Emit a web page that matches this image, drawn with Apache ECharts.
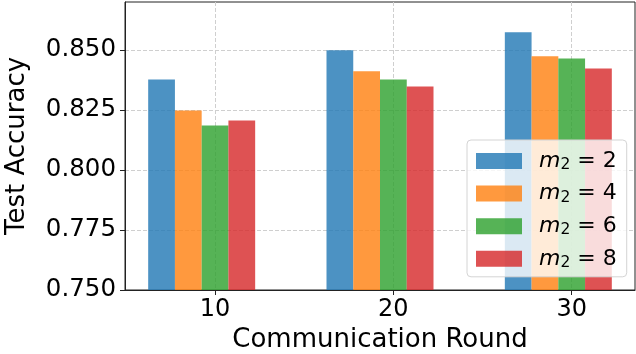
<!DOCTYPE html>
<html>
<head>
<meta charset="utf-8">
<script src="https://cdn.jsdelivr.net/npm/echarts@6/dist/echarts.min.js"></script>
<style>
  html, body { margin: 0; padding: 0; background: #fff; }
  #chart { width: 636px; height: 354px; }
</style>
</head>
<body>
<div id="chart"></div>
<script>
// Communication rounds on the x axis
const rounds = [10, 20, 30];
// Test accuracy for each m2 setting
const accM2_2 = [0.8377, 0.8499, 0.8574];
const accM2_4 = [0.8248, 0.8411, 0.8474];
const accM2_6 = [0.8185, 0.8377, 0.8465];
const accM2_8 = [0.8206, 0.8348, 0.8423];
const seriesValues = [accM2_2, accM2_4, accM2_6, accM2_8];
const seriesNames = ['2', '4', '6', '8'];
// Tick labels
const yTicks = [0.750, 0.775, 0.800, 0.825, 0.850];
const xTicks = [10, 20, 30];

const colors = [
  'rgba(31,119,180,0.8)',
  'rgba(255,127,14,0.8)',
  'rgba(44,160,44,0.8)',
  'rgba(214,39,40,0.8)'
];
const FONT = 'DejaVu Sans';
const BAR_W = 1.5;   // bar width in x-axis units
const Y_MIN = 0.75;

function renderBar(params, api) {
  const x = api.value(0);
  const y = api.value(1);
  const topLeft = api.coord([x - BAR_W / 2, y]);
  const botRight = api.coord([x + BAR_W / 2, Y_MIN]);
  return {
    type: 'rect',
    shape: {
      x: topLeft[0],
      y: topLeft[1],
      width: botRight[0] - topLeft[0],
      height: botRight[1] - topLeft[1]
    },
    style: { fill: api.visual('color') }
  };
}

const series = seriesValues.map((vals, i) => ({
  name: seriesNames[i],
  type: 'custom',
  renderItem: renderBar,
  itemStyle: { color: colors[i] },
  encode: { x: 0, y: 1 },
  clip: true,
  data: rounds.map((r, j) => [r + (i - 2) * BAR_W, vals[j]])
}));

const gridLine = { show: true, lineStyle: { color: '#cfcfcf', width: 1, type: [4, 2] } };

const chart = echarts.init(document.getElementById('chart'), null, { renderer: 'canvas' });
chart.setOption({
  animation: false,
  backgroundColor: '#fff',
  textStyle: { fontFamily: FONT },
  grid: {
    left: 125, right: 1, top: 2, bottom: 64,
    containLabel: false,
    outerBoundsMode: 'none',
    show: true, borderColor: '#222', borderWidth: 1, backgroundColor: 'transparent'
  },
  xAxis: {
    type: 'value',
    min: 4.95,
    max: 33.55,
    name: 'Communication Round',
    nameLocation: 'middle',
    nameGap: 37,
    nameMoveOverlap: false,
    nameTextStyle: { fontFamily: FONT, fontSize: 26, color: '#000' },
    axisLine: { show: true, onZero: false, lineStyle: { color: '#222', width: 1 } },
    axisTick: { show: true, length: 5, lineStyle: { color: '#222' }, customValues: xTicks },
    axisLabel: { customValues: xTicks, fontFamily: FONT, fontSize: 24, color: '#000', margin: 8 },
    splitLine: gridLine
  },
  yAxis: {
    type: 'value',
    min: Y_MIN,
    max: 0.87,
    name: 'Test Accuracy',
    nameLocation: 'middle',
    nameGap: 95,
    nameMoveOverlap: false,
    nameTextStyle: { fontFamily: FONT, fontSize: 26, color: '#000' },
    axisLine: { show: true, onZero: false, lineStyle: { color: '#222', width: 1 } },
    axisTick: { show: true, length: 5, lineStyle: { color: '#222' }, customValues: yTicks },
    axisLabel: {
      customValues: yTicks,
      fontFamily: FONT, fontSize: 24.5, color: '#000', margin: 9,
      formatter: v => v.toFixed(3)
    },
    splitLine: gridLine
  },
  legend: {
    orient: 'vertical',
    left: 467,
    top: 140,
    padding: [5, 10, 6, 9],
    itemWidth: 46,
    itemHeight: 16,
    itemGap: 4.6,
    icon: 'rect',
    backgroundColor: 'rgba(255,255,255,0.8)',
    borderColor: '#d4d4d4',
    borderWidth: 1,
    borderRadius: 4,
    data: seriesNames,
    formatter: name => '{m|m}{s|2}{t| = ' + name + '}',
    textStyle: {
      fontFamily: FONT,
      fontSize: 22,
      color: '#000',
      rich: {
        m: { fontFamily: FONT, fontStyle: 'italic', fontSize: 22, lineHeight: 24, color: '#000', padding: [0, 0, 0, 12] },
        s: { fontFamily: FONT, fontSize: 15.5, lineHeight: 15, color: '#000', verticalAlign: 'bottom', padding: [12, 0, 0, 0] },
        t: { fontFamily: FONT, fontSize: 22, lineHeight: 24, color: '#000' }
      }
    }
  },
  series: series
});
</script>
</body>
</html>
